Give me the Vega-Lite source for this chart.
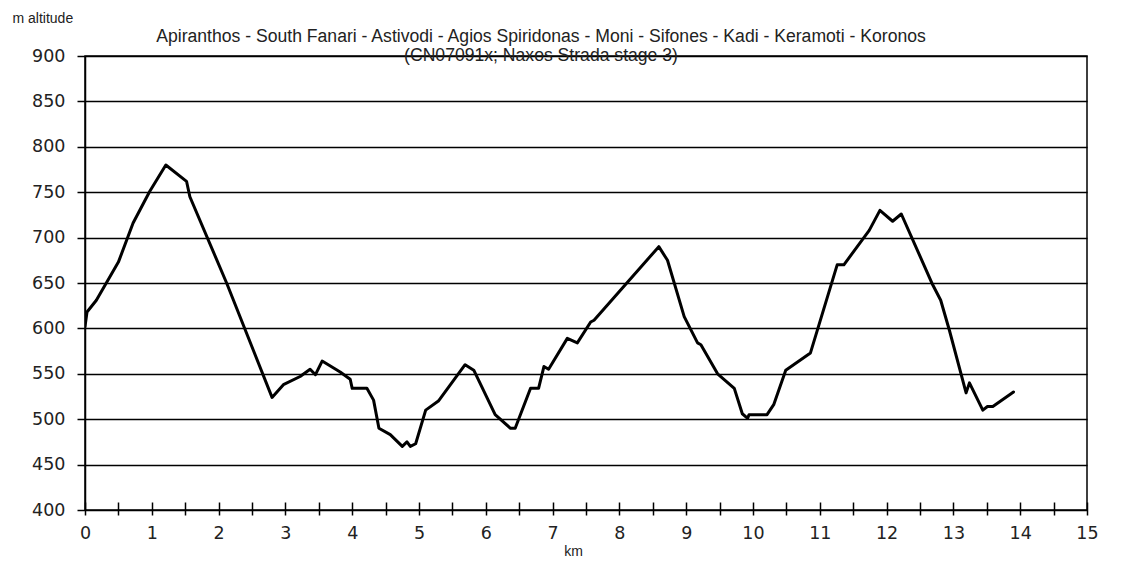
{
  "$schema": "https://vega.github.io/schema/vega-lite/v6.json",
  "autosize": "none",
  "padding": {"left": 85, "top": 56, "right": 42, "bottom": 53},
  "width": 1002,
  "height": 454,
  "background": "white",
  "title": {
    "text": ["Apiranthos - South Fanari - Astivodi - Agios Spiridonas - Moni - Sifones - Kadi - Keramoti - Koronos", "(CN07091x; Naxos Strada stage 3)"],
    "font": "Liberation Sans",
    "fontSize": 17.6,
    "fontWeight": "normal",
    "color": "#222",
    "anchor": "middle",
    "dx": -45,
    "dy": 46,
    "offset": -8,
    "lineHeight": 19
  },
  "data": {
    "values": [
      {"km": 0, "alt": 602}, {"km": 0.03, "alt": 618}, {"km": 0.17, "alt": 631}, {"km": 0.5, "alt": 673},
      {"km": 0.72, "alt": 716}, {"km": 0.97, "alt": 751}, {"km": 1.21, "alt": 780}, {"km": 1.52, "alt": 762},
      {"km": 1.57, "alt": 745}, {"km": 2.12, "alt": 650}, {"km": 2.52, "alt": 576}, {"km": 2.8, "alt": 524},
      {"km": 2.97, "alt": 538}, {"km": 3.22, "alt": 547}, {"km": 3.37, "alt": 555}, {"km": 3.45, "alt": 549},
      {"km": 3.55, "alt": 564}, {"km": 3.82, "alt": 552}, {"km": 3.97, "alt": 544}, {"km": 4.0, "alt": 534},
      {"km": 4.22, "alt": 534}, {"km": 4.32, "alt": 521}, {"km": 4.4, "alt": 490}, {"km": 4.57, "alt": 483},
      {"km": 4.75, "alt": 470}, {"km": 4.82, "alt": 475}, {"km": 4.87, "alt": 470}, {"km": 4.95, "alt": 473},
      {"km": 5.1, "alt": 510}, {"km": 5.29, "alt": 520}, {"km": 5.69, "alt": 560}, {"km": 5.82, "alt": 554},
      {"km": 6.14, "alt": 505}, {"km": 6.37, "alt": 490}, {"km": 6.44, "alt": 490}, {"km": 6.67, "alt": 534},
      {"km": 6.79, "alt": 534}, {"km": 6.87, "alt": 558}, {"km": 6.94, "alt": 555}, {"km": 7.22, "alt": 589},
      {"km": 7.37, "alt": 584}, {"km": 7.57, "alt": 607}, {"km": 7.62, "alt": 609}, {"km": 8.59, "alt": 690},
      {"km": 8.72, "alt": 675}, {"km": 8.97, "alt": 613}, {"km": 9.17, "alt": 584}, {"km": 9.22, "alt": 582},
      {"km": 9.47, "alt": 550}, {"km": 9.72, "alt": 534}, {"km": 9.84, "alt": 506}, {"km": 9.92, "alt": 501},
      {"km": 9.94, "alt": 505}, {"km": 10.21, "alt": 505}, {"km": 10.31, "alt": 516}, {"km": 10.49, "alt": 554},
      {"km": 10.86, "alt": 573}, {"km": 11.26, "alt": 670}, {"km": 11.36, "alt": 670}, {"km": 11.74, "alt": 708},
      {"km": 11.9, "alt": 730}, {"km": 12.09, "alt": 718}, {"km": 12.22, "alt": 726}, {"km": 12.69, "alt": 648},
      {"km": 12.81, "alt": 631}, {"km": 12.94, "alt": 598}, {"km": 13.19, "alt": 529}, {"km": 13.24, "alt": 540},
      {"km": 13.44, "alt": 510}, {"km": 13.51, "alt": 514}, {"km": 13.59, "alt": 514}, {"km": 13.9, "alt": 530}
    ]
  },
  "mark": {"type": "line", "color": "black", "strokeWidth": 3, "strokeJoin": "round", "strokeCap": "round", "clip": true},
  "encoding": {
    "x": {
      "field": "km", "type": "quantitative",
      "scale": {"domain": [0, 15], "nice": false, "zero": false},
      "axis": {
        "values": [0,0.5,1,1.5,2,2.5,3,3.5,4,4.5,5,5.5,6,6.5,7,7.5,8,8.5,9,9.5,10,10.5,11,11.5,12,12.5,13,13.5,14,14.5,15],
        "labelExpr": "datum.value % 1 === 0 ? format(datum.value, 'd') : ''",
        "labelOverlap": false,
        "labelFlush": false,
        "offset": -8,
        "domain": false,
        "grid": false,
        "tickSize": 13,
        "tickColor": "black",
        "tickWidth": 1.5,
        "labelPadding": 9,
        "labelFont": "DejaVu Sans",
        "labelFontSize": 17.5,
        "labelColor": "#222",
        "title": "km",
        "titleFont": "Liberation Sans",
        "titleFontSize": 14,
        "titleFontWeight": "normal",
        "titleColor": "#222",
        "titleX": 488,
        "titleY": 49,
        "titleBaseline": "middle"
      }
    },
    "y": {
      "field": "alt", "type": "quantitative",
      "scale": {"domain": [400, 900], "nice": false, "zero": false},
      "axis": {
        "values": [400,450,500,550,600,650,700,750,800,850,900],
        "grid": true,
        "gridColor": "black",
        "gridWidth": 1.5,
        "gridOpacity": 1,
        "domainColor": "black",
        "domainWidth": 1.5,
        "tickColor": "black",
        "tickWidth": 1.5,
        "tickSize": 8,
        "labelPadding": 12,
        "labelFont": "DejaVu Sans",
        "labelFontSize": 17.5,
        "labelColor": "#222",
        "title": "m altitude",
        "titleFont": "Liberation Sans",
        "titleFontSize": 14,
        "titleFontWeight": "normal",
        "titleColor": "#222",
        "titleAngle": 0,
        "titleAlign": "left",
        "titleBaseline": "middle",
        "titleX": -73,
        "titleY": -38
      }
    }
  },
  "config": {
    "view": {"stroke": "black", "strokeWidth": 1.5}
  }
}
